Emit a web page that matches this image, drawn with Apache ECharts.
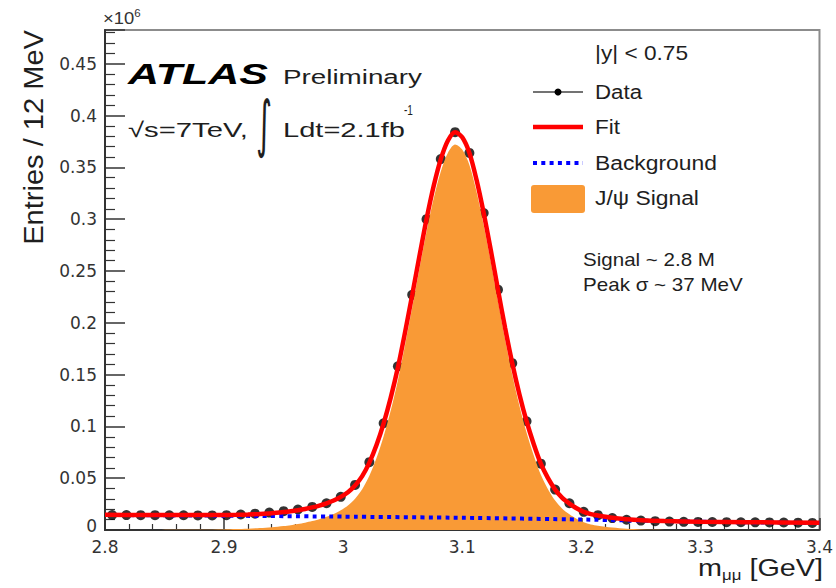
<!DOCTYPE html>
<html><head><meta charset="utf-8">
<script src="https://cdn.jsdelivr.net/npm/echarts@6/dist/echarts.min.js"></script>
<style>html,body{margin:0;padding:0;background:#fff}#c{width:836px;height:588px}</style>
</head><body><div id="c"></div>
<script>
// ---- data (×10^6 entries per 12 MeV) ----
const massBins = [2.806,2.818,2.830,2.842,2.854,2.866,2.878,2.890,2.902,2.914,2.926,2.938,2.950,2.962,2.974,2.986,2.998,3.010,3.022,3.034,3.046,3.058,3.070,3.082,3.094,3.106,3.118,3.130,3.142,3.154,3.166,3.178,3.190,3.202,3.214,3.226,3.238,3.250,3.262,3.274,3.286,3.298,3.310,3.322,3.334,3.346,3.358,3.370,3.382,3.394];
const dataCounts = [0.0145,0.0144,0.0143,0.0143,0.0142,0.0142,0.0141,0.0141,0.0143,0.0150,0.0158,0.0168,0.0182,0.0198,0.0223,0.0258,0.0320,0.0435,0.0655,0.1030,0.1580,0.2270,0.3000,0.3580,0.3840,0.3640,0.3060,0.2320,0.1610,0.1050,0.0640,0.0390,0.0258,0.0175,0.0143,0.0115,0.0099,0.0091,0.0085,0.0081,0.0079,0.0078,0.0077,0.0076,0.0075,0.0074,0.0073,0.0072,0.0071,0.0068];
const fitMass = [2.800,2.830,2.860,2.880,2.900,2.910,2.920,2.930,2.940,2.950,2.956,2.962,2.968,2.974,2.980,2.986,2.992,2.998,3.004,3.010,3.016,3.022,3.028,3.034,3.040,3.046,3.052,3.058,3.064,3.070,3.076,3.082,3.088,3.094,3.100,3.106,3.112,3.118,3.124,3.130,3.136,3.142,3.148,3.154,3.160,3.166,3.172,3.178,3.184,3.190,3.196,3.202,3.208,3.214,3.226,3.238,3.250,3.270,3.300,3.340,3.400];
const fitCounts = [0.0146,0.0145,0.0144,0.0144,0.0145,0.0147,0.0150,0.0155,0.0162,0.0173,0.0181,0.0191,0.0203,0.0218,0.0236,0.0258,0.0285,0.0320,0.0365,0.0430,0.0520,0.0650,0.0820,0.1030,0.1280,0.1570,0.1910,0.2270,0.2640,0.3000,0.3320,0.3580,0.3760,0.3840,0.3790,0.3640,0.3380,0.3060,0.2700,0.2320,0.1950,0.1610,0.1310,0.1050,0.0830,0.0640,0.0500,0.0390,0.0310,0.0255,0.0210,0.0175,0.0153,0.0140,0.0118,0.0104,0.0095,0.0087,0.0080,0.0075,0.0069];
const sigMass = [2.800,2.880,2.900,2.910,2.920,2.930,2.940,2.950,2.956,2.962,2.968,2.974,2.980,2.986,2.992,2.998,3.004,3.010,3.016,3.022,3.028,3.034,3.040,3.046,3.052,3.058,3.064,3.070,3.076,3.082,3.088,3.094,3.100,3.106,3.112,3.118,3.124,3.130,3.136,3.142,3.148,3.154,3.160,3.166,3.172,3.178,3.184,3.190,3.196,3.202,3.208,3.214,3.226,3.238,3.250,3.270,3.300,3.400];
const sigCounts = [0,0.0002,0.0006,0.0009,0.0013,0.0019,0.0027,0.0039,0.0047,0.0058,0.0070,0.0086,0.0104,0.0127,0.0154,0.0190,0.0236,0.0302,0.0393,0.0523,0.0694,0.0905,0.1155,0.1446,0.1787,0.2147,0.2518,0.2879,0.3199,0.3460,0.3641,0.3721,0.3672,0.3523,0.3264,0.2945,0.2586,0.2207,0.1838,0.1499,0.1200,0.0941,0.0722,0.0533,0.0394,0.0285,0.0206,0.0152,0.0108,0.0074,0.0054,0.0042,0.0023,0.0011,0.0005,0.0001,0,0];
const bkgMass = [2.8,2.9,3.0,3.1,3.2,3.3,3.4];
const bkgCounts = [0.0145,0.0138,0.0129,0.0118,0.0101,0.0080,0.0067];
const xTickLabels = ['2.8','2.9','3','3.1','3.2','3.3','3.4'];
const yTickLabels = ['0','0.05','0.1','0.15','0.2','0.25','0.3','0.35','0.4','0.45'];

const pairs = (xs, ys) => xs.map((x, i) => [x, ys[i]]);

const mctx = document.createElement('canvas').getContext('2d');
function fitScale(str, font, w) { mctx.font = font; return w / mctx.measureText(str).width; }
const LS = '"Liberation Sans", Arial, sans-serif';
function label(str, font, x, y, w, extra) {
  const o = {
    type: 'text', x: x, y: y, z: 100,
    scaleX: w ? fitScale(str, font, w) : 1,
    style: { text: str, font: font, fill: '#1e1e1e', align: 'left', verticalAlign: 'middle',
             textAlign: 'left', textVerticalAlign: 'middle' }
  };
  if (extra) { Object.assign(o.style, extra.style || {}); if (extra.rotation) o.rotation = extra.rotation; }
  return o;
}

const chart = echarts.init(document.getElementById('c'), null, { renderer: 'svg' });
const axisColor = '#333';
const option = {
  animation: false,
  backgroundColor: '#fff',
  grid: { left: 105, right: 13, top: 30, bottom: 58, show: true, borderColor: '#8c8c8c', borderWidth: 2, backgroundColor: 'transparent' },
  xAxis: {
    type: 'value', min: 2.8, max: 3.4, interval: 0.1,
    axisLine: { show: true, onZero: false, lineStyle: { color: axisColor, width: 2 } },
    axisTick: { show: true, inside: true, length: 12, lineStyle: { color: axisColor, width: 1.5 } },
    minorTick: { show: true, splitNumber: 5, length: 6, lineStyle: { color: axisColor, width: 1.2 } },
    splitLine: { show: false },
    axisLabel: { fontFamily: 'DejaVu Sans', fontSize: 17, lineHeight: 13, color: '#333', margin: 10,
      formatter: v => { const i = Math.round((v - 2.8) / 0.1); return Math.abs((v - 2.8) / 0.1 - i) < 1e-6 ? (xTickLabels[i] || '') : ''; } }
  },
  yAxis: {
    type: 'value', min: 0, max: 0.4826, interval: 0.05,
    axisLine: { show: true, onZero: false, lineStyle: { color: axisColor, width: 2 } },
    axisTick: { show: true, inside: true, length: 20, lineStyle: { color: axisColor, width: 1.5 } },
    minorTick: { show: true, splitNumber: 5, length: 10, lineStyle: { color: axisColor, width: 1.2 } },
    splitLine: { show: false },
    axisLabel: { fontFamily: 'DejaVu Sans', fontSize: 17, lineHeight: 13, color: '#333', margin: 8,
      rich: { z: { fontFamily: 'DejaVu Sans', fontSize: 17, lineHeight: 13, color: '#333', padding: [0, 0, 8, 0] } },
      formatter: v => { const i = Math.round(v / 0.05); if (Math.abs(v / 0.05 - i) >= 1e-6) return ''; return i === 0 ? '{z|' + yTickLabels[0] + '}' : (yTickLabels[i] || ''); } }
  },
  series: [
    { name: 'Data', type: 'scatter', data: pairs(massBins, dataCounts), symbol: 'circle', symbolSize: 10,
      itemStyle: { color: '#000' }, z: 2 },
    { name: 'J/ψ Signal', type: 'line', data: pairs(sigMass, sigCounts), smooth: 0.3, symbol: 'none',
      lineStyle: { width: 0 }, areaStyle: { color: '#f99a36', opacity: 1 }, z: 3 },
    { name: 'Background', type: 'line', data: pairs(bkgMass, bkgCounts), smooth: 0.2, symbol: 'none',
      lineStyle: { color: '#0000ff', width: 4, type: [4, 4.3] }, z: 4 },
    { name: 'Fit', type: 'line', data: pairs(fitMass, fitCounts), smooth: 0.3, symbol: 'none',
      lineStyle: { color: '#ff0000', width: 4.5 }, z: 5 }
  ],
  graphic: [
    label('ATLAS', 'italic bold 29px ' + LS, 128, 74, 140, { style: { fill: '#000' } }),
    label('Preliminary', '20px ' + LS, 283, 77, 139),
    label('√s=7TeV,', '21px ' + LS, 128, 130, 120),
    label('∫', '62px "DejaVu Sans"', 256, 124, 16),
    label('Ldt=2.1fb', '21px ' + LS, 283, 130, 122),
    label('-1', '14px ' + LS, 404, 110, 9),
    label('|y| < 0.75', '20px ' + LS, 595, 53, 93),
    label('Data', '20px ' + LS, 595, 92, 47),
    label('Fit', '20px ' + LS, 595, 127, 25),
    label('Background', '20px ' + LS, 595, 163, 122),
    label('J/ψ Signal', '20px ' + LS, 595, 198, 104),
    label('Signal ~ 2.8 M', '18px ' + LS, 583, 260, 132),
    label('Peak σ ~ 37 MeV', '18px ' + LS, 583, 284, 160),
    { type: 'text', x: 34, y: 30, rotation: Math.PI / 2, z: 100,
      scaleX: fitScale('Entries / 12 MeV', '27px ' + LS, 215),
      style: { text: 'Entries / 12 MeV', font: '27px ' + LS, fill: '#1e1e1e', align: 'right', verticalAlign: 'middle', textAlign: 'right', textVerticalAlign: 'middle' } },
    { type: 'text', x: 823, y: 568, z: 100, scaleX: 1.2,
      style: { text: '{m|m}{s|μμ}{t| [GeV]}', fill: '#1e1e1e', align: 'right', verticalAlign: 'middle', textAlign: 'right', textVerticalAlign: 'middle',
        rich: { m: { fontSize: 24, fontFamily: 'Liberation Sans', fill: '#1e1e1e' },
                s: { fontSize: 14, fontFamily: 'Liberation Sans', fill: '#1e1e1e', padding: [14, 0, 0, 0] },
                t: { fontSize: 24, fontFamily: 'Liberation Sans', fill: '#1e1e1e' } } } },
    { type: 'text', x: 103, y: 18, z: 100, scaleX: 1.15,
      style: { text: '{a|×10}{b|6}', fill: '#333', align: 'left', verticalAlign: 'middle', textAlign: 'left', textVerticalAlign: 'middle',
        rich: { a: { fontSize: 16, fontFamily: 'Liberation Sans', fill: '#333' },
                b: { fontSize: 10, fontFamily: 'Liberation Sans', fill: '#333', padding: [0, 0, 10, 0] } } } },
    // legend icons
    { type: 'line', z: 100, shape: { x1: 533, y1: 92, x2: 583, y2: 92 }, style: { stroke: '#444', lineWidth: 1.5 } },
    { type: 'circle', z: 101, shape: { cx: 558, cy: 92, r: 3.5 }, style: { fill: '#000' } },
    { type: 'line', z: 100, shape: { x1: 533, y1: 127, x2: 583, y2: 127 }, style: { stroke: '#ff0000', lineWidth: 4.5 } },
    { type: 'line', z: 100, shape: { x1: 533, y1: 163, x2: 583, y2: 163 }, style: { stroke: '#0000ff', lineWidth: 4, lineDash: [4, 4.3] } },
    { type: 'rect', z: 100, shape: { x: 531, y: 185, width: 54, height: 28, r: 3 }, style: { fill: '#f99a36' } }
  ]
};
chart.setOption(option);
</script></body></html>
